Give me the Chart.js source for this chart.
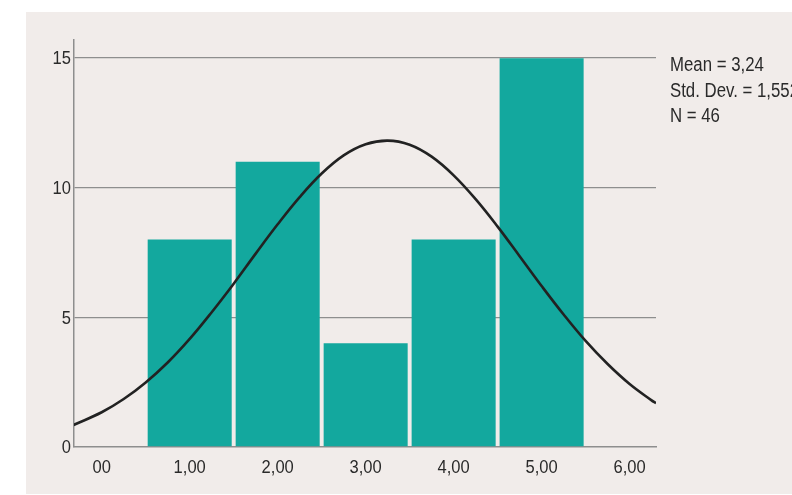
<!DOCTYPE html>
<html>
<head>
<meta charset="utf-8">
<script src="https://cdn.jsdelivr.net/npm/chart.js@4"></script>
<style>
  html, body { margin: 0; padding: 0; background: #fff; }
  #wrap { width: 792px; height: 495px; }
</style>
</head>
<body>
<div id="wrap"><canvas id="myChart" width="792" height="495"></canvas></div>
<script>
// histogram bins
const binCenters = [1, 2, 3, 4, 5]
const counts = [8, 11, 4, 8, 15]

// normal curve
const curveX = [-0.32, 0, 0.25, 0.5, 0.75, 1, 1.25, 1.5, 1.75, 2, 2.25, 2.5, 2.75, 3, 3.25,
    3.5, 3.75, 4, 4.25, 4.5, 4.75, 5, 5.25, 5.5, 5.75, 6, 6.25, 6.3]
const curveY = [0.85, 1.34, 1.85, 2.49, 3.26, 4.17, 5.20, 6.30, 7.46, 8.59, 9.64, 10.55, 11.25, 11.68, 11.82,
    11.66, 11.20, 10.48, 9.56, 8.50, 7.36, 6.21, 5.11, 4.09, 3.20, 2.43, 1.80, 1.69]

const xTicks = [0, 1, 2, 3, 4, 5, 6]
const xTickLabels = ['00', '1,00', '2,00', '3,00', '4,00', '5,00', '6,00']
const yTicks = [0, 5, 10, 15]
const statsLines = ['Mean = 3,24', 'Std. Dev. = 1,552', 'N = 46']

const FONT = '"Liberation Sans", Arial, sans-serif'
const TEXT = '#2a2a2a'
const GRID = '#8e8e8e'

// squeezed text, the original uses a condensed face
function narrowText(ctx, text, x, y, align, sx) {
    ctx.save()
    ctx.translate(x, y)
    ctx.scale(sx, 1)
    ctx.textAlign = align
    ctx.fillText(text, 0, 0)
    ctx.restore()
}

const panelPlugin = {
    id: 'panel',
    beforeDraw(chart) {
        const ctx = chart.ctx
        ctx.save()
        ctx.fillStyle = '#ffffff'
        ctx.fillRect(0, 0, chart.width, chart.height)
        ctx.fillStyle = '#f1ecea'
        ctx.fillRect(26, 12, chart.width - 26, 482)
        ctx.restore()
    },
    afterDraw(chart) {
        const ctx = chart.ctx
        const xs = chart.scales.x
        const ys = chart.scales.y
        ctx.save()
        ctx.fillStyle = TEXT

        ctx.font = '19px ' + FONT
        ctx.textBaseline = 'middle'
        yTicks.forEach(function(v) {
            narrowText(ctx, String(v), 71, ys.getPixelForValue(v) + 1, 'right', 0.87)
        })
        xTicks.forEach(function(v, i) {
            narrowText(ctx, xTickLabels[i], xs.getPixelForValue(v), 468, 'center', 0.87)
        })

        ctx.font = '20px ' + FONT
        ctx.textBaseline = 'alphabetic'
        statsLines.forEach(function(t, i) {
            narrowText(ctx, t, 670, 71 + i * 25.5, 'left', 0.84)
        })
        ctx.restore()
    }
}

const data = {
    datasets: [{
        type: 'line',
        data: curveX.map((x, i) => ({ x: x, y: curveY[i] })),
        borderColor: '#222222',
        borderWidth: 2.6,
        pointRadius: 0,
        tension: 0.4,
        fill: false,
        order: 0
    }, {
        type: 'bar',
        data: binCenters.map((x, i) => ({ x: x, y: counts[i] })),
        backgroundColor: '#13a89e',
        borderWidth: 0,
        categoryPercentage: 0.955,
        barPercentage: 1,
        order: 1
    }]
}

const config = {
    type: 'bar',
    data: data,
    plugins: [panelPlugin],
    options: {
        responsive: false,
        animation: false,
        layout: { padding: { left: 0, right: 136, top: 40, bottom: 0 } },
        plugins: {
            legend: { display: false },
            tooltip: { enabled: false }
        },
        scales: {
            x: {
                type: 'linear',
                offset: false,
                min: -0.315,
                max: 6.3,
                afterFit: function(scale) { scale.height = 48 },
                afterBuildTicks: function(scale) {
                    scale.ticks = xTicks.map(v => ({ value: v }))
                },
                grid: { display: false, drawTicks: false },
                border: { display: true, color: GRID, width: 1.5 },
                ticks: { display: false }
            },
            y: {
                min: 0,
                max: 15.7,
                afterFit: function(scale) { scale.width = 74 },
                afterBuildTicks: function(scale) {
                    scale.ticks = yTicks.map(v => ({ value: v }))
                },
                grid: {
                    drawTicks: false,
                    color: function(c) { return c.tick && c.tick.value === 0 ? 'rgba(0,0,0,0)' : GRID },
                    lineWidth: 1.3
                },
                border: { display: true, color: GRID, width: 1.5 },
                ticks: { display: false }
            }
        }
    }
}

let myChart = new Chart(document.getElementById('myChart'), config)
</script>
</body>
</html>
